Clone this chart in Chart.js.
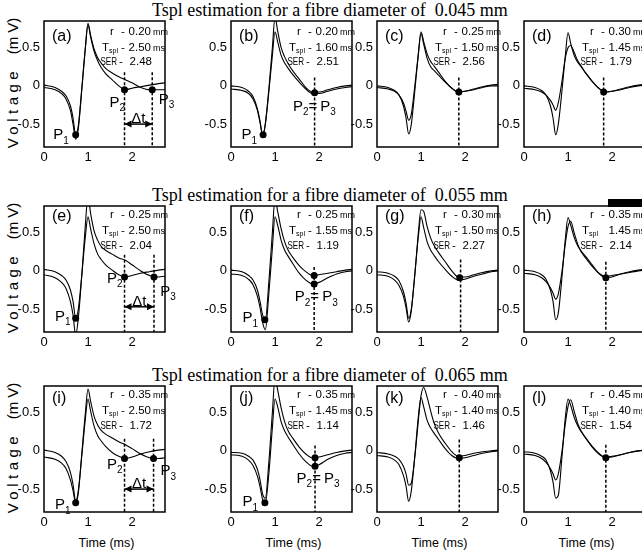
<!DOCTYPE html>
<html>
<head>
<meta charset="utf-8">
<script src="https://cdn.jsdelivr.net/npm/chart.js@4"></script>
<style>
html, body { margin: 0; padding: 0; background: #fff; overflow: hidden; }
#fig { position: relative; width: 642px; height: 553px; overflow: hidden; }
#fig canvas { position: absolute; }
.ttl { position: absolute; left: 152px; font: 18px "Liberation Serif", "Times New Roman", serif; white-space: pre; line-height: 18px; color: #000; }
.ylab { position: absolute; left: 12px; transform: translate(-50%, -50%) rotate(-90deg); font: 15px "Liberation Sans", Arial, sans-serif; white-space: pre; color: #000; }
.xlab { position: absolute; transform: translate(-50%, -50%); font: 12.5px "Liberation Sans", Arial, sans-serif; white-space: pre; color: #000; }
</style>
</head>
<body>
<div id="fig"></div>
<script>
// shared time base (ms) for all traces
const times = [0, 0.25, 0.4, 0.5, 0.6, 0.66, 0.72, 0.78, 0.86, 0.94, 1.0, 1.06, 1.14, 1.22, 1.3, 1.4, 1.55, 1.7, 1.85, 2.0, 2.2, 2.4, 2.6, 2.75];
const xTicks = [0, 1, 2];
const yTicks = [-0.5, 0, 0.5];
const diameters = ["0.045", "0.055", "0.065"];

// voltage traces (mV), two per panel
const a1 = [0.01, -0.02, -0.07, -0.13, -0.26, -0.42, -0.64, -0.52, -0.02, 0.5, 0.8, 0.64, 0.45, 0.33, 0.24, 0.16, 0.08, 0.0, -0.05, -0.03, -0.01, 0.01, 0.03, 0.04];
const a2 = [-0.02, -0.05, -0.1, -0.17, -0.32, -0.5, -0.7, -0.56, -0.05, 0.5, 0.82, 0.66, 0.48, 0.37, 0.3, 0.23, 0.17, 0.12, 0.08, 0.04, -0.02, -0.05, -0.05, -0.05];
const b1 = [0.0, -0.02, -0.07, -0.14, -0.3, -0.46, -0.66, -0.5, -0.04, 0.5, 0.9, 0.72, 0.5, 0.38, 0.29, 0.2, 0.09, -0.02, -0.08, -0.08, -0.05, -0.02, 0.0, 0.01];
const b2 = [-0.04, -0.06, -0.1, -0.17, -0.32, -0.48, -0.64, -0.5, -0.08, 0.4, 0.71, 0.58, 0.4, 0.3, 0.23, 0.15, 0.05, -0.04, -0.1, -0.1, -0.07, -0.04, -0.02, -0.01];
const c1 = [0.0, -0.02, -0.06, -0.12, -0.26, -0.42, -0.63, -0.5, -0.06, 0.42, 0.71, 0.58, 0.42, 0.32, 0.26, 0.18, 0.06, -0.03, -0.08, -0.07, -0.04, -0.01, 0.01, 0.02];
const c2 = [-0.02, -0.04, -0.07, -0.12, -0.22, -0.33, -0.45, -0.37, 0.0, 0.42, 0.69, 0.55, 0.36, 0.25, 0.2, 0.14, 0.05, -0.03, -0.08, -0.07, -0.05, -0.02, 0.0, 0.0];
const d1 = [0.0, -0.02, -0.06, -0.12, -0.26, -0.42, -0.64, -0.5, -0.08, 0.4, 0.7, 0.56, 0.4, 0.31, 0.25, 0.17, 0.06, -0.03, -0.08, -0.07, -0.04, -0.01, 0.01, 0.02];
const d2 = [-0.03, -0.05, -0.08, -0.12, -0.19, -0.25, -0.32, -0.22, 0.05, 0.37, 0.5, 0.53, 0.44, 0.33, 0.26, 0.17, 0.06, -0.03, -0.08, -0.07, -0.05, -0.02, 0.0, 0.01];
const e1 = [0.02, -0.01, -0.06, -0.12, -0.25, -0.4, -0.62, -0.5, -0.05, 0.45, 0.71, 0.55, 0.35, 0.22, 0.15, 0.08, 0.01, -0.05, -0.08, -0.06, -0.03, -0.01, 0.01, 0.02];
const e2 = [-0.05, -0.09, -0.15, -0.23, -0.4, -0.58, -0.84, -0.62, -0.05, 0.6, 0.98, 0.75, 0.52, 0.4, 0.32, 0.27, 0.22, 0.17, 0.14, 0.08, 0.0, -0.06, -0.08, -0.07];
const f1 = [0.01, -0.01, -0.06, -0.12, -0.25, -0.4, -0.58, -0.64, -0.15, 0.5, 0.95, 0.78, 0.55, 0.38, 0.27, 0.18, 0.07, -0.01, -0.06, -0.05, -0.03, -0.01, 0.01, 0.02];
const f2 = [-0.04, -0.06, -0.11, -0.18, -0.33, -0.48, -0.68, -0.77, -0.3, 0.3, 0.71, 0.6, 0.4, 0.27, 0.19, 0.1, -0.03, -0.12, -0.17, -0.15, -0.09, -0.04, -0.01, 0.0];
const g1 = [-0.01, -0.03, -0.07, -0.13, -0.27, -0.42, -0.62, -0.5, -0.05, 0.5, 0.8, 0.78, 0.58, 0.43, 0.33, 0.24, 0.12, 0.0, -0.08, -0.08, -0.05, -0.02, 0.0, 0.01];
const g2 = [-0.05, -0.07, -0.12, -0.19, -0.33, -0.48, -0.67, -0.52, -0.04, 0.45, 0.71, 0.57, 0.38, 0.27, 0.2, 0.12, 0.02, -0.07, -0.12, -0.11, -0.07, -0.04, -0.01, 0.0];
const h1 = [0.01, -0.01, -0.05, -0.11, -0.25, -0.4, -0.64, -0.55, -0.1, 0.42, 0.7, 0.6, 0.44, 0.33, 0.26, 0.19, 0.08, -0.03, -0.09, -0.08, -0.04, -0.01, 0.01, 0.02];
const h2 = [-0.03, -0.05, -0.09, -0.14, -0.22, -0.29, -0.37, -0.3, -0.02, 0.36, 0.58, 0.65, 0.5, 0.35, 0.25, 0.17, 0.06, -0.03, -0.07, -0.06, -0.04, -0.02, 0.0, 0.01];
const i1 = [0.01, -0.02, -0.07, -0.14, -0.28, -0.44, -0.66, -0.52, -0.06, 0.42, 0.68, 0.52, 0.32, 0.2, 0.13, 0.06, -0.02, -0.07, -0.1, -0.08, -0.04, -0.01, 0.01, 0.02];
const i2 = [-0.08, -0.11, -0.16, -0.23, -0.38, -0.52, -0.68, -0.55, -0.03, 0.5, 0.81, 0.65, 0.45, 0.34, 0.27, 0.22, 0.17, 0.12, 0.08, 0.03, -0.04, -0.09, -0.1, -0.09];
const j1 = [-0.02, -0.03, -0.07, -0.12, -0.24, -0.38, -0.57, -0.62, -0.15, 0.5, 0.95, 0.8, 0.56, 0.38, 0.26, 0.17, 0.05, -0.04, -0.09, -0.08, -0.05, -0.02, 0.0, 0.01];
const j2 = [-0.05, -0.07, -0.12, -0.19, -0.33, -0.47, -0.64, -0.68, -0.3, 0.3, 0.68, 0.58, 0.38, 0.26, 0.18, 0.09, -0.04, -0.14, -0.2, -0.18, -0.11, -0.06, -0.03, -0.02];
const k1 = [-0.02, -0.04, -0.07, -0.11, -0.2, -0.3, -0.45, -0.42, -0.08, 0.4, 0.72, 0.83, 0.7, 0.52, 0.36, 0.23, 0.1, -0.01, -0.07, -0.06, -0.03, -0.01, 0.0, 0.01];
const k2 = [-0.06, -0.08, -0.12, -0.18, -0.32, -0.46, -0.66, -0.52, -0.06, 0.45, 0.7, 0.58, 0.4, 0.3, 0.23, 0.15, 0.03, -0.06, -0.1, -0.09, -0.06, -0.03, -0.01, 0.0];
const l1 = [-0.01, -0.03, -0.07, -0.12, -0.26, -0.41, -0.62, -0.58, -0.1, 0.44, 0.68, 0.6, 0.44, 0.33, 0.25, 0.17, 0.06, -0.03, -0.09, -0.08, -0.05, -0.02, 0.0, 0.01];
const l2 = [-0.04, -0.06, -0.1, -0.15, -0.23, -0.3, -0.38, -0.3, -0.02, 0.36, 0.58, 0.67, 0.52, 0.36, 0.26, 0.17, 0.05, -0.04, -0.08, -0.07, -0.05, -0.02, 0.0, 0.01];

// r (mm), Tspl (ms) and SER for panels a..l
const radius = ["0.20", "0.20", "0.25", "0.30", "0.25", "0.25", "0.30", "0.35", "0.35", "0.35", "0.40", "0.45"];
const tspl = ["2.50", "1.60", "1.50", "1.45", "2.50", "1.55", "1.50", "1.45", "2.50", "1.45", "1.40", "1.40"];
const ser = ["2.48", "2.51", "2.56", "1.79", "2.04", "1.19", "2.27", "2.14", "1.72", "1.14", "1.46", "1.54"];

// detected points P1/P2/P3 (ms, mV)
const ptsA = [[0.72, -0.64], [1.83, -0.05], [2.46, -0.05]];
const ptsB = [[0.73, -0.64], [1.9, -0.09]];
const ptsC = [[1.86, -0.08]];
const ptsD = [[1.81, -0.08]];
const ptsE = [[0.72, -0.62], [1.83, -0.08], [2.5, -0.08]];
const ptsF = [[0.77, -0.64], [1.89, -0.06], [1.89, -0.17]];
const ptsG = [[1.88, -0.09]];
const ptsH = [[1.86, -0.09]];
const ptsI = [[0.72, -0.68], [1.83, -0.1], [2.49, -0.1]];
const ptsJ = [[0.77, -0.68], [1.91, -0.09], [1.91, -0.2]];
const ptsK = [[1.87, -0.09]];
const ptsL = [[1.86, -0.09]];

// dashed marker times (ms) and where each dashed line starts (mV)
const dashA = [1.83, 2.46], dashB = [1.9], dashC = [1.86], dashD = [1.81];
const dashE = [1.83, 2.5], dashF = [1.89], dashG = [1.9], dashH = [1.86];
const dashI = [1.83, 2.49], dashJ = [1.91], dashK = [1.87], dashL = [1.86];
const dashTop = [0.18, 0.11, 0.11, 0.11, 0.21, 0.05, 0.15, 0.12, 0.16, 0.07, 0.15, 0.08];

// delta-t arrows: from, to (ms), level (mV)
const dtA = [1.83, 2.46, -0.5];
const dtE = [1.83, 2.5, -0.47];
const dtI = [1.83, 2.49, -0.5];

const tags = ["(a)", "(b)", "(c)", "(d)", "(e)", "(f)", "(g)", "(h)", "(i)", "(j)", "(k)", "(l)"];
const traces = [[a1, a2], [b1, b2], [c1, c2], [d1, d2], [e1, e2], [f1, f2], [g1, g2], [h1, h2], [i1, i2], [j1, j2], [k1, k2], [l1, l2]];
const points = [ptsA, ptsB, ptsC, ptsD, ptsE, ptsF, ptsG, ptsH, ptsI, ptsJ, ptsK, ptsL];
const dashes = [dashA, dashB, dashC, dashD, dashE, dashF, dashG, dashH, dashI, dashJ, dashK, dashL];
const arrows = { 0: dtA, 4: dtE, 8: dtI };

// P label anchors in data units
const pLabels = {
  0: [[0.21, -0.64, "1"], [1.49, -0.22, "2"], [2.61, -0.18, "3"]],
  1: [[0.24, -0.64, "1"], [1.41, -0.27, "="]],
  4: [[0.25, -0.6, "1"], [1.43, -0.1, "2"], [2.64, -0.27, "3"]],
  5: [[0.26, -0.62, "1"], [1.45, -0.34, "="]],
  8: [[0.25, -0.71, "1"], [1.43, -0.18, "2"], [2.65, -0.26, "3"]],
  9: [[0.26, -0.67, "1"], [1.49, -0.36, "="]]
};

const COLS = [44, 231, 377, 524], ROWS = [21, 206, 386];
const BW = 121, BH = 126;
const PADL = 40, PADT = 18, PADR = 60, PADB = 26;
const FONT = '"Liberation Sans", Arial, sans-serif';
const infoRows = [[11, 27, 41], [8.5, 25, 40], [8.5, 25, 40]];
const tagRows = [16, 11, 13];

function drawP(ctx, px, py, sub) {
  ctx.font = "15px " + FONT;
  ctx.fillText("P", px, py);
  const w = ctx.measureText("P").width;
  ctx.font = "10px " + FONT;
  ctx.fillText(sub, px + w, py + 6);
  return px + w + ctx.measureText(sub).width;
}

const figPlugin = {
  id: "fig",
  afterDatasetsDraw(chart, args, o) {
    const { ctx, chartArea: a, scales: { x, y } } = chart;
    ctx.save();
    ctx.strokeStyle = "#000";
    ctx.fillStyle = "#000";
    ctx.lineWidth = 1.5;
    ctx.strokeRect(a.left, a.top, a.right - a.left, a.bottom - a.top);

    ctx.textBaseline = "middle";
    ctx.textAlign = "left";
    ctx.font = "16px " + FONT;
    ctx.fillText(o.tag, a.left + 8, a.top + o.tagY);

    // r / Tspl / SER block
    const L = a.left, T = a.top, r = o.rows;
    ctx.font = "11.5px " + FONT;
    ctx.fillText("r", L + 66, T + r[0]);
    ctx.fillText("-", L + 77, T + r[0]);
    ctx.fillText("T", L + 58, T + r[1]);
    if (o.tDash) ctx.fillText("-", L + 77, T + r[1]);
    ctx.save();
    ctx.translate(L + 56.5, T + r[2]);
    ctx.scale(0.7, 1);
    ctx.fillText("SER", 0, 0);
    ctx.restore();
    ctx.font = "11.5px " + FONT;
    ctx.fillText("-", L + 75, T + r[2]);
    ctx.textAlign = "right";
    ctx.fillText(o.info[0], L + 107, T + r[0]);
    ctx.fillText(o.info[1], L + 107, T + r[1]);
    ctx.fillText(o.info[2], L + 108, T + r[2]);
    ctx.textAlign = "left";
    ctx.font = "7px " + FONT;
    ctx.fillText("spl", L + 65, T + r[1] + 3);
    ctx.font = "9px " + FONT;
    ctx.fillText("mm", L + 109, T + r[0] + 1);
    ctx.fillText("ms", L + 109, T + r[1] + 1);

    // P labels
    for (const [lx, ly, s] of o.plabels) {
      const px = x.getPixelForValue(lx), py = y.getPixelForValue(ly);
      if (s === "=") {
        let nx = drawP(ctx, px, py, "2");
        ctx.font = "15px " + FONT;
        ctx.fillText("=", nx, py);
        nx += ctx.measureText("=").width + 3;
        drawP(ctx, nx, py, "3");
      } else {
        drawP(ctx, px, py, s);
      }
    }

    // delta t arrow
    if (o.arrow) {
      const [x1, x2, yv] = o.arrow;
      const p1 = x.getPixelForValue(x1), p2 = x.getPixelForValue(x2), py = y.getPixelForValue(yv);
      ctx.lineWidth = 1.5;
      ctx.beginPath(); ctx.moveTo(p1, py); ctx.lineTo(p2, py); ctx.stroke();
      ctx.beginPath(); ctx.moveTo(p1, py); ctx.lineTo(p1 + 7, py - 3.5); ctx.lineTo(p1 + 7, py + 3.5); ctx.closePath(); ctx.fill();
      ctx.beginPath(); ctx.moveTo(p2, py); ctx.lineTo(p2 - 7, py - 3.5); ctx.lineTo(p2 - 7, py + 3.5); ctx.closePath(); ctx.fill();
      ctx.font = "15px " + FONT;
      ctx.textAlign = "center";
      ctx.textBaseline = "alphabetic";
      ctx.fillText("\u0394t", (p1 + p2) / 2, py - 1);
    }
    ctx.restore();
  }
};

const fig = document.getElementById("fig");

function addDiv(cls, text, style) {
  const d = document.createElement("div");
  d.className = cls;
  d.innerHTML = text;
  Object.assign(d.style, style);
  fig.appendChild(d);
}

diameters.forEach((dm, row) => {
  addDiv("ttl", "Tspl estimation for a fibre diameter of  " + dm + " mm", { top: (ROWS[row] - 20) + "px" });
  addDiv("ylab", '<span style="letter-spacing:4.5px">Voltage</span>   (m V)', { top: (ROWS[row] + BH / 2 - 1) + "px" });
});
COLS.forEach(cx => addDiv("xlab", "Time (ms)", { left: (cx + BW / 2 + 2) + "px", top: "543px" }));
addDiv("blk", "", { position: "absolute", left: "608px", top: "199px", width: "34px", height: "8px", background: "#000" });

tags.forEach((tag, i) => {
  const col = i % 4, row = Math.floor(i / 4);
  const cv = document.createElement("canvas");
  cv.width = PADL + BW + PADR;
  cv.height = PADT + BH + PADB;
  cv.style.left = (COLS[col] - PADL) + "px";
  cv.style.top = (ROWS[row] - PADT) + "px";
  fig.appendChild(cv);

  const datasets = [];
  datasets.push({
    data: points[i].map(p => ({ x: p[0], y: p[1] })),
    showLine: false, pointRadius: 3.5, pointBackgroundColor: "#000", pointBorderColor: "#000", borderWidth: 0
  });
  traces[i].forEach(tr => datasets.push({
    data: times.map((t, k) => ({ x: t, y: tr[k] })),
    borderColor: "#000", borderWidth: 1.1, pointRadius: 0, cubicInterpolationMode: "monotone"
  }));
  dashes[i].forEach(dx => datasets.push({
    data: [{ x: dx, y: dashTop[i] }, { x: dx, y: -0.8 }],
    borderColor: "#000", borderWidth: 1.5, borderDash: [3, 2], pointRadius: 0
  }));

  new Chart(cv, {
    type: "line",
    data: { datasets },
    options: {
      responsive: false,
      animation: false,
      events: [],
      layout: { padding: { left: 0, top: PADT, right: PADR, bottom: 0 } },
      scales: {
        x: {
          type: "linear", min: 0, max: 2.75,
          afterBuildTicks: s => { s.ticks = xTicks.map(v => ({ value: v })); },
          afterFit: s => { s.height = PADB; },
          grid: { display: false, drawTicks: false },
          border: { display: false },
          ticks: { color: "#000", padding: 3, maxRotation: 0, font: { family: FONT, size: 13 }, callback: v => String(v) }
        },
        y: {
          min: -0.8, max: 0.85,
          afterBuildTicks: s => { s.ticks = yTicks.map(v => ({ value: v })); },
          afterFit: s => { s.width = PADL; },
          grid: { display: false, drawTicks: false },
          border: { display: false },
          ticks: { color: "#000", padding: 4, font: { family: FONT, size: 13 }, callback: v => String(v) }
        }
      },
      plugins: {
        legend: { display: false },
        tooltip: { enabled: false },
        fig: {
          tag,
          tagY: tagRows[row],
          rows: infoRows[row],
          info: [radius[i], tspl[i], ser[i]],
          tDash: i !== 7,
          plabels: pLabels[i] || [],
          arrow: arrows[i]
        }
      }
    },
    plugins: [figPlugin]
  });
});
</script>
</body>
</html>
